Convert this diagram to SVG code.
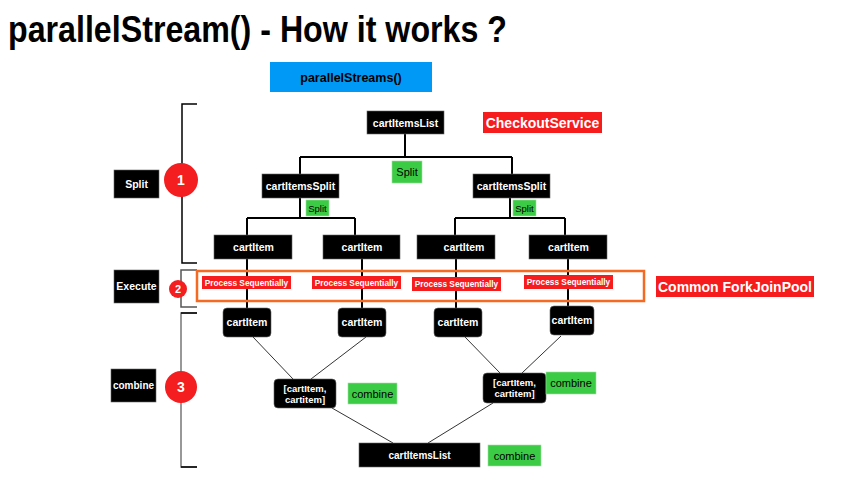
<svg xmlns="http://www.w3.org/2000/svg" width="849" height="483" viewBox="0 0 849 483">
<defs>
<style>
text{font-family:"Liberation Sans",Arial,Helvetica,sans-serif;text-anchor:middle}
.blk{fill:#000;stroke:#666;stroke-width:0.6}
.wt{fill:#fff;font-weight:bold;font-size:10.5px}
.grn{fill:#3ccb45;stroke:#9ee0a0;stroke-width:0.6}
.gt{fill:#000;font-size:11px}
.red{fill:#f61b1d}
.rt{fill:#fff;font-weight:bold;font-size:14px}
.ps{fill:#fff;font-weight:bold;font-size:8.3px}
.tree{stroke:#000;stroke-width:2;fill:none}
.diag{stroke:#333;stroke-width:1;fill:none}
.circ{fill:#f41d1f}
.ct{fill:#fff;font-weight:bold}
</style>
</defs>
<rect width="849" height="483" fill="#fff"/>

<g id="title">
<text x="8" y="42" style="text-anchor:start;font-weight:bold;font-size:37px" textLength="499" lengthAdjust="spacingAndGlyphs">parallelStream() - How it works ?</text>
</g>

<g id="parallelStreams">
<rect x="270" y="62" width="162" height="30" fill="#0099f6"/>
<text x="351" y="81.5" style="font-size:12.5px;font-weight:bold" fill="#000">parallelStreams()</text>
</g>

<g id="brackets">
<path d="M197 104H182V263H197" fill="none" stroke="#000" stroke-width="1.5"/>
<path d="M197 270H181V307H197" fill="none" stroke="#555" stroke-width="1.5"/>
<path d="M197 313H181V467H197" fill="none" stroke="#777" stroke-width="1.5"/>
<path d="M181 313H197M181 467H197" fill="none" stroke="#000" stroke-width="1.5"/>
</g>

<g id="step1">
<rect class="blk" x="114" y="170" width="45" height="28"/>
<text class="wt" x="136.5" y="188">Split</text>
<circle class="circ" cx="181" cy="180" r="17"/>
<text class="ct" x="181" y="185" style="font-size:14px">1</text>
</g>
<g id="step2">
<rect class="blk" x="114" y="270" width="45" height="33"/>
<text class="wt" x="136.5" y="290">Execute</text>
<circle class="circ" cx="178" cy="289" r="9"/>
<text class="ct" x="178" y="293" style="font-size:11px">2</text>
</g>
<g id="step3">
<rect class="blk" x="111" y="369" width="45" height="33"/>
<text class="wt" x="133.5" y="389" style="font-size:10px">combine</text>
<circle class="circ" cx="181" cy="387" r="16"/>
<text class="ct" x="181" y="392" style="font-size:14px">3</text>
</g>

<g id="connectors">
<path class="tree" d="M405 134V157M300 157H512M300 157V174M512 157V174"/>
<path class="tree" d="M300 198V218M247 218H355M247 218V235M355 218V235"/>
<path class="tree" d="M510 198V218M455 218H565M455 218V235M565 218V235"/>
<path class="tree" d="M247 259V308M362 259V308M456 259V308M568 259V306"/>
<path class="diag" d="M253 337L293 379M366 337L311 379M465 337L500 373M561 336L522 373M332 408L393 443M493 403L428 443"/>
</g>

<g id="cartItemsList-top">
<rect class="blk" x="367" y="111" width="77" height="23"/>
<text class="wt" x="405.5" y="126.5">cartItemsList</text>
</g>
<g id="checkoutService">
<rect class="red" x="483" y="112" width="119" height="21"/>
<text class="rt" x="542.5" y="127.5">CheckoutService</text>
</g>
<g id="split-main">
<rect class="grn" x="392" y="161" width="30" height="22"/>
<text class="gt" x="407" y="176">Split</text>
</g>
<g id="cartItemsSplit-left">
<rect class="blk" x="262" y="174" width="77" height="24"/>
<text class="wt" x="300.5" y="190">cartItemsSplit</text>
</g>
<g id="cartItemsSplit-right">
<rect class="blk" x="473" y="174" width="77" height="24"/>
<text class="wt" x="511.5" y="190">cartItemsSplit</text>
</g>
<g id="split-left">
<rect class="grn" x="306" y="200" width="23" height="16"/>
<text class="gt" x="317.5" y="211.5" style="font-size:9.5px">Split</text>
</g>
<g id="split-right">
<rect class="grn" x="513" y="200" width="23" height="16"/>
<text class="gt" x="524.5" y="211.5" style="font-size:9.5px">Split</text>
</g>

<g id="cartItem-1">
<rect class="blk" x="214" y="235" width="78" height="24"/>
<text class="wt" x="253.5" y="251">cartItem</text>
</g>
<g id="cartItem-2">
<rect class="blk" x="323" y="235" width="77" height="24"/>
<text class="wt" x="362" y="251">cartItem</text>
</g>
<g id="cartItem-3">
<rect class="blk" x="417" y="235" width="78" height="24"/>
<text class="wt" x="464" y="251">cartItem</text>
</g>
<g id="cartItem-4">
<rect class="blk" x="529" y="235" width="78" height="24"/>
<text class="wt" x="568.5" y="251">cartItem</text>
</g>

<g id="forkJoinPool">
<rect x="197" y="271" width="447" height="30" fill="none" stroke="#f46a22" stroke-width="2.5"/>
</g>
<g id="process-1">
<rect class="red" x="202" y="276" width="89" height="13"/>
<text class="ps" x="246.5" y="285.5">Process Sequentially</text>
</g>
<g id="process-2">
<rect class="red" x="312" y="276" width="89" height="13"/>
<text class="ps" x="356.5" y="285.5">Process Sequentially</text>
</g>
<g id="process-3">
<rect class="red" x="412" y="277" width="89" height="14"/>
<text class="ps" x="456.5" y="287">Process Sequentially</text>
</g>
<g id="process-4">
<rect class="red" x="524" y="275" width="89" height="14"/>
<text class="ps" x="568.5" y="285">Process Sequentially</text>
</g>
<g id="commonForkJoinPool">
<rect class="red" x="656" y="276" width="158" height="21"/>
<text class="rt" x="735" y="291.5">Common ForkJoinPool</text>
</g>

<g id="result-1">
<rect class="blk" x="223" y="308" width="48" height="29" rx="4"/>
<text class="wt" x="247" y="326">cartItem</text>
</g>
<g id="result-2">
<rect class="blk" x="338" y="308" width="48" height="29" rx="4"/>
<text class="wt" x="362" y="326">cartItem</text>
</g>
<g id="result-3">
<rect class="blk" x="434" y="308" width="48" height="29" rx="4"/>
<text class="wt" x="458" y="326">cartItem</text>
</g>
<g id="result-4">
<rect class="blk" x="550" y="306" width="44" height="29" rx="4"/>
<text class="wt" x="572" y="324">cartItem</text>
</g>

<g id="combined-left">
<rect class="blk" x="274" y="379" width="62" height="29" rx="4"/>
<text class="wt" x="305" y="391.5" style="font-size:9.5px">[cartItem,</text>
<text class="wt" x="305" y="402.5" style="font-size:9.5px">cartitem]</text>
</g>
<g id="combine-left">
<rect class="grn" x="348" y="383" width="49" height="21"/>
<text class="gt" x="372.5" y="397.5">combine</text>
</g>
<g id="combined-right">
<rect class="blk" x="483" y="373" width="63" height="30" rx="4"/>
<text class="wt" x="514.5" y="386" style="font-size:9.5px">[cartItem,</text>
<text class="wt" x="514.5" y="397" style="font-size:9.5px">cartitem]</text>
</g>
<g id="combine-right">
<rect class="grn" x="546" y="372" width="50" height="22"/>
<text class="gt" x="571" y="386.5">combine</text>
</g>

<g id="cartItemsList-bottom">
<rect class="blk" x="359" y="443" width="121" height="24"/>
<text class="wt" x="419.5" y="458.5" style="font-size:10px">cartItemsList</text>
</g>
<g id="combine-bottom">
<rect class="grn" x="488" y="445" width="53" height="21"/>
<text class="gt" x="514.5" y="459.5">combine</text>
</g>
</svg>
